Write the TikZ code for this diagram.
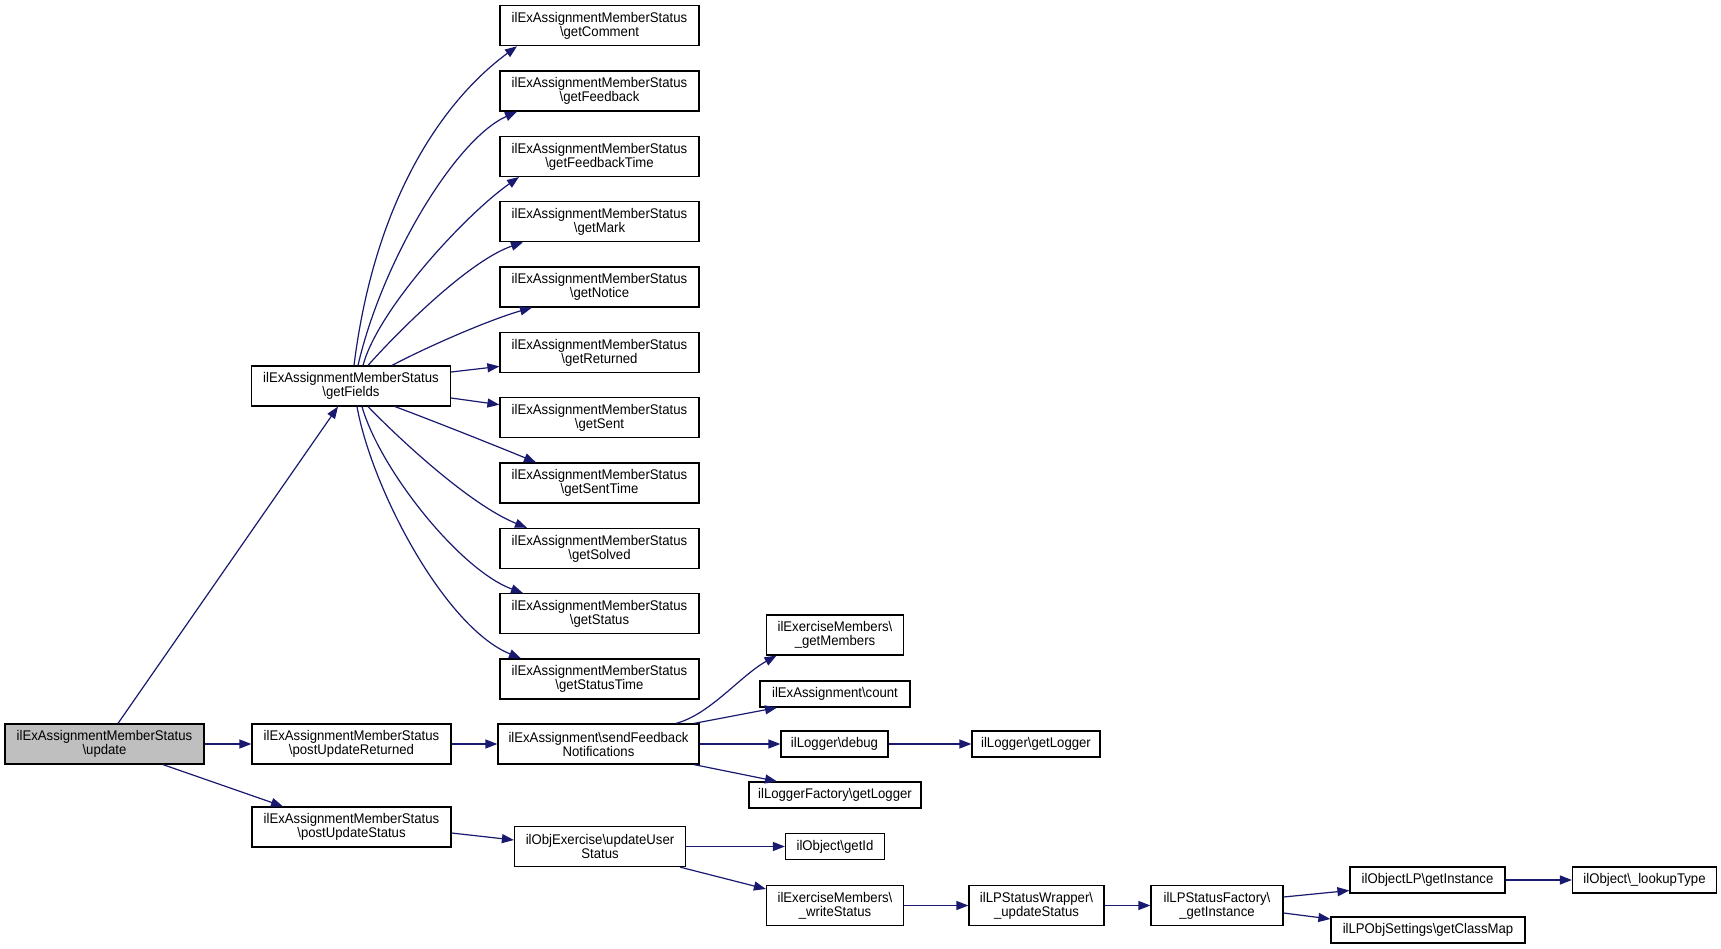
\documentclass[tikz,border=0pt]{standalone}
\usepackage{fontspec}
\setmainfont{Liberation Sans}[FakeStretch=0.94]
\usepackage{tikz}
\usetikzlibrary{arrows.meta}
\definecolor{callblue}{RGB}{25,25,112}
\definecolor{curgray}{RGB}{191,191,191}

\begin{document}
\begin{tikzpicture}[x=1pt,y=-1pt,
  fn/.style={draw,rectangle,line width=1.2pt,inner sep=0pt,align=center,minimum height=40pt,font=\fontsize{14}{14}\selectfont},
  fn1/.style={fn,minimum height=26pt},
  call/.style={draw=callblue,line width=1.2pt,-{Triangle[length=12pt,width=9pt]}}]
\fill[white] (0,0) rectangle (1721,949);
\useasboundingbox (0,0) rectangle (1721,949);

\node [fn,fill=curgray,minimum width=199pt] (upd) at(104.5,744){ilExAssignmentMemberStatus\\\textbackslash{}update};
\node [fn,minimum width=199pt] (gf) at(351,386){ilExAssignmentMemberStatus\\\textbackslash{}getFields};
\node [fn,minimum width=199pt] (pur) at(351.5,744){ilExAssignmentMemberStatus\\\textbackslash{}postUpdateReturned};
\node [fn,minimum width=199pt] (pus) at(351.5,827){ilExAssignmentMemberStatus\\\textbackslash{}postUpdateStatus};

%getters
\node [fn,minimum width=199pt] (gc) at(599.5,25.7){ilExAssignmentMemberStatus\\\textbackslash{}getComment};
\node [fn,minimum width=199pt] (gfb) at(599.5,91){ilExAssignmentMemberStatus\\\textbackslash{}getFeedback};
\node [fn,minimum width=199pt] (gft) at(599.5,156.4){ilExAssignmentMemberStatus\\\textbackslash{}getFeedbackTime};
\node [fn,minimum width=199pt] (gmk) at(599.5,221.7){ilExAssignmentMemberStatus\\\textbackslash{}getMark};
\node [fn,minimum width=199pt] (gn) at(599.5,287){ilExAssignmentMemberStatus\\\textbackslash{}getNotice};
\node [fn,minimum width=199pt] (grt) at(599.5,352.4){ilExAssignmentMemberStatus\\\textbackslash{}getReturned};
\node [fn,minimum width=199pt] (gs) at(599.5,417.7){ilExAssignmentMemberStatus\\\textbackslash{}getSent};
\node [fn,minimum width=199pt] (gst) at(599.5,483){ilExAssignmentMemberStatus\\\textbackslash{}getSentTime};
\node [fn,minimum width=199pt] (gsv) at(599.5,548.4){ilExAssignmentMemberStatus\\\textbackslash{}getSolved};
\node [fn,minimum width=199pt] (gss) at(599.5,613.7){ilExAssignmentMemberStatus\\\textbackslash{}getStatus};
\node [fn,minimum width=199pt] (gstt) at(599.5,679){ilExAssignmentMemberStatus\\\textbackslash{}getStatusTime};

\node [fn,minimum width=201pt] (sf) at(598.5,744){ilExAssignment\textbackslash{}sendFeedback\\Notifications};
\node [fn,minimum width=171pt] (uus) at(600,846.5){ilObjExercise\textbackslash{}updateUser\\Status};

\node [fn,minimum width=137pt] (gm) at(835,635){ilExerciseMembers\textbackslash{}\\\_getMembers};
\node [fn1,minimum width=150pt] (cnt) at(835,694){ilExAssignment\textbackslash{}count};
\node [fn1,minimum width=107pt] (dbg) at(834.5,744){ilLogger\textbackslash{}debug};
\node [fn1,minimum width=128pt] (lgl) at(1036,744){ilLogger\textbackslash{}getLogger};
\node [fn1,minimum width=172pt] (lfg) at(835,795){ilLoggerFactory\textbackslash{}getLogger};
\node [fn1,minimum width=99pt] (gid) at(835,846.5){ilObject\textbackslash{}getId};
\node [fn,minimum width=137pt] (ws) at(835,905.5){ilExerciseMembers\textbackslash{}\\\_writeStatus};
\node [fn,minimum width=135pt] (us) at(1036.5,905.5){ilLPStatusWrapper\textbackslash{}\\\_updateStatus};
\node [fn,minimum width=132pt] (gi) at(1217,905.5){ilLPStatusFactory\textbackslash{}\\\_getInstance};
\node [fn1,minimum width=155pt] (olp) at(1427.5,880){ilObjectLP\textbackslash{}getInstance};
\node [fn1,minimum width=144pt] (lt) at(1644.5,880){ilObject\textbackslash{}\_lookupType};
\node [fn1,minimum width=194pt] (gcm) at(1428,930){ilLPObjSettings\textbackslash{}getClassMap};

\draw[call]([xshift=13.5pt]upd.north) -- ([xshift=-13pt]gf.south);
\draw[call](upd.east) -- (pur.west);
\draw[call]([xshift=58.5pt]upd.south) -- ([xshift=-68.5pt]pus.north);

\draw[call]([xshift=3pt]gf.north) .. controls +(22,-176) and +(-67,49) .. ([xshift=-82.5pt]gc.south);
\draw[call]([xshift=7pt]gf.north) .. controls +(24,-104) and +(-62,28) .. ([xshift=-82.5pt]gfb.south);
\draw[call]([xshift=12pt]gf.north) .. controls +(15,-56) and +(-54,38) .. ([xshift=-80.5pt]gft.south);
\draw[call]([xshift=17pt]gf.north) .. controls +(32,-36) and +(-53,18) .. ([xshift=-76.5pt]gmk.south);
\draw[call]([xshift=41pt]gf.north) .. controls +(38,-20) and +(-42,12) .. ([xshift=-67.5pt]gn.south);
\draw[call]([yshift=14pt]gf.east) -- ([yshift=-14pt]grt.west);
\draw[call]([yshift=-12pt]gf.east) -- ([yshift=13pt]gs.west);
\draw[call]([xshift=44pt]gf.south) .. controls +(35,13) and +(-36,-15) .. ([xshift=-63.5pt]gst.north);
\draw[call]([xshift=17pt]gf.south) .. controls +(32,33) and +(-57,-23) .. ([xshift=-72.5pt]gsv.north);
\draw[call]([xshift=11pt]gf.south) .. controls +(18,63) and +(-63,-23) .. ([xshift=-76.5pt]gss.north);
\draw[call]([xshift=6pt]gf.south) .. controls +(15,83) and +(-76,-31) .. ([xshift=-78.5pt]gstt.north);

\draw[call](pur.east) -- (sf.west);
\draw[call]([yshift=-6pt]pus.east) -- ([yshift=6.5pt]uus.west);

\draw[call]([xshift=77.5pt]sf.north) .. controls +(34,-9) and +(-36,20) .. ([xshift=-58.5pt]gm.south);
\draw[call]([xshift=95.5pt]sf.north) -- ([xshift=-58pt]cnt.south);
\draw[call](sf.east) -- (dbg.west);
\draw[call]([xshift=95.5pt]sf.south) -- ([xshift=-58pt]lfg.north);
\draw[call](dbg.east) -- (lgl.west);

\draw[call](uus.east) -- (gid.west);
\draw[call]([xshift=80pt]uus.south) -- ([yshift=16.5pt]ws.west);
\draw[call](ws.east) -- (us.west);
\draw[call](us.east) -- (gi.west);
\draw[call]([yshift=8.5pt]gi.east) -- ([yshift=-10.5pt]olp.west);
\draw[call]([yshift=-7.5pt]gi.east) -- ([yshift=11pt]gcm.west);
\draw[call](olp.east) -- (lt.west);

\end{tikzpicture}
\end{document}
